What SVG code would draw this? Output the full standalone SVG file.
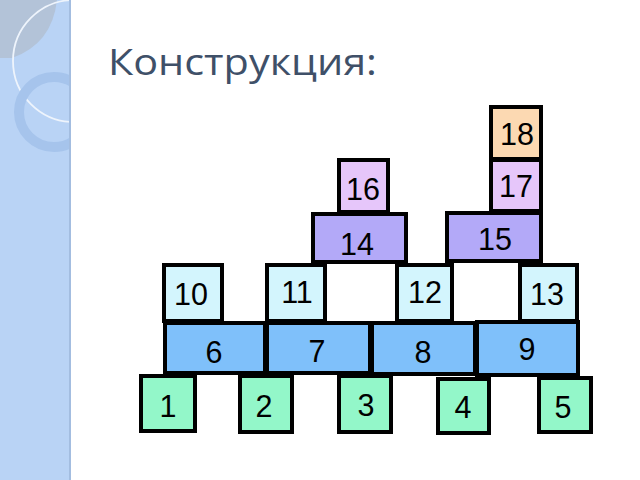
<svg xmlns="http://www.w3.org/2000/svg" width="640" height="480" viewBox="0 0 640 480">
<defs>
<style>
.b{stroke:#000;stroke-width:4;stroke-linejoin:miter}
.t{font-family:"Liberation Sans",Arial,sans-serif;font-size:30.5px;fill:#000;text-anchor:middle}
.peach{fill:#fcd9b2}
.lav{fill:#e6c6fa}
.peri{fill:#b3a9f8}
.cyan{fill:#d3f5fd}
.blue{fill:#7fc0fa}
.green{fill:#93f7c9}
</style>
<clipPath id="panel"><rect x="0" y="0" width="70" height="480"/></clipPath>
</defs>
<rect x="0" y="0" width="640" height="480" fill="#fff"/>
<g id="background">
<rect x="0" y="0" width="70" height="480" fill="#b9d3f5"/>
<g clip-path="url(#panel)">
<path d="M0,0 L57,0 Q52,44 12,58 L0,58 Z" fill="#b3c3d8"/>
<circle cx="74" cy="61" r="61" fill="none" stroke="#eef4fc" stroke-width="1.8"/>
<circle cx="54" cy="112" r="35" fill="none" stroke="#a6c4ec" stroke-width="10"/>
</g>
<rect x="69" y="0" width="2" height="480" fill="#a3bde0"/>
</g>
<text id="title" x="108" y="75" font-family="'Open Sans','DejaVu Sans',sans-serif" font-size="37" fill="#3f5068" textLength="269" lengthAdjust="spacingAndGlyphs">Конструкция:</text>
<g id="connectors"></g>
<g id="n18"><rect class="b peach" x="491" y="107" width="50" height="52"/><text class="t" x="517" y="145">18</text></g>
<g id="n17"><rect class="b lav" x="491" y="160" width="50" height="51"/><text class="t" x="516" y="197">17</text></g>
<g id="n16"><rect class="b lav" x="339" y="160" width="49" height="52"/><text class="t" x="363" y="200">16</text></g>
<g id="n15"><rect class="b peri" x="447" y="213" width="94" height="48"/><text class="t" x="495" y="250">15</text></g>
<g id="n14"><rect class="b peri" x="313" y="214" width="93" height="48"/><text class="t" x="357" y="255">14</text></g>
<g id="n10"><rect class="b cyan" x="164" y="265" width="58" height="56"/><text class="t" x="191" y="305">10</text></g>
<g id="n11"><rect class="b cyan" x="267" y="265" width="58" height="56"/><text class="t" x="297" y="303">11</text></g>
<g id="n12"><rect class="b cyan" x="397" y="265" width="55" height="56"/><text class="t" x="425" y="303">12</text></g>
<g id="n13"><rect class="b cyan" x="520" y="265" width="57" height="56"/><text class="t" x="547" y="305">13</text></g>
<g id="n6"><rect class="b blue" x="165" y="323" width="100" height="50"/><text class="t" x="214" y="363">6</text></g>
<g id="n7"><rect class="b blue" x="267" y="323" width="103" height="50"/><text class="t" x="317" y="362">7</text></g>
<g id="n8"><rect class="b blue" x="372" y="323" width="103" height="51"/><text class="t" x="423" y="363">8</text></g>
<g id="n9"><rect class="b blue" x="477" y="322" width="101" height="53"/><text class="t" x="527" y="360">9</text></g>
<g id="n1"><rect class="b green" x="141" y="376" width="54" height="55"/><text class="t" x="168" y="417">1</text></g>
<g id="n2"><rect class="b green" x="240" y="376" width="52" height="56"/><text class="t" x="264" y="417">2</text></g>
<g id="n3"><rect class="b green" x="339" y="376" width="52" height="56"/><text class="t" x="366" y="416">3</text></g>
<g id="n4"><rect class="b green" x="438" y="379" width="51" height="54"/><text class="t" x="463" y="418">4</text></g>
<g id="n5"><rect class="b green" x="539" y="378" width="52" height="54"/><text class="t" x="563" y="418">5</text></g>
</svg>
